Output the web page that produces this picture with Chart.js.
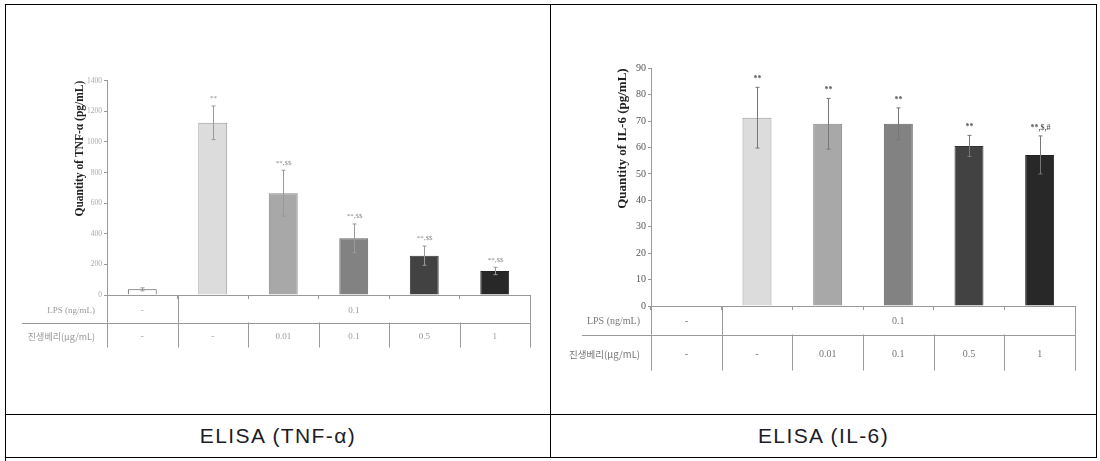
<!DOCTYPE html>
<html>
<head>
<meta charset="utf-8">
<script src="https://cdn.jsdelivr.net/npm/chart.js@4.4.1/dist/chart.umd.min.js"></script>
<style>
  body { margin: 0; background: #fff; width: 1100px; height: 461px; overflow: hidden; position: relative; }
  .ln { position: absolute; background: #000; }
  .cap { position: absolute; top: 415px; height: 42px; line-height: 42px; text-align: center;
         font-family: "Liberation Sans", sans-serif; font-size: 21px; letter-spacing: 1.4px; color: #1c1c28; }
  canvas { position: absolute; top: 5px; }
</style>
</head>
<body>
<!-- cadre du tableau -->
<div class="ln" style="left:5px;top:4px;width:1092px;height:1px"></div>
<div class="ln" style="left:5px;top:414px;width:1092px;height:1px"></div>
<div class="ln" style="left:5px;top:457px;width:1092px;height:1px"></div>
<div class="ln" style="left:5px;top:4px;width:1px;height:457px"></div>
<div class="ln" style="left:550px;top:4px;width:1px;height:454px"></div>
<div class="ln" style="left:1096px;top:4px;width:1px;height:454px"></div>
<div class="cap" style="left:6px;width:544px">ELISA (TNF-α)</div>
<div class="cap" style="left:551px;width:545px">ELISA (IL-6)</div>

<canvas id="tnf" width="544" height="408" style="left:6px"></canvas>
<canvas id="il6" width="543" height="408" style="left:552px"></canvas>

<script>
// groupes (lignes du tableau sous le graphique)
const lpsRow = ['-', '0.1', '0.1', '0.1', '0.1', '0.1'];
const berryRow = ['-', '-', '0.01', '0.1', '0.5', '1'];

// TNF-alpha (pg/mL)
const tnfMeans = [37, 1125, 665, 370, 257, 157];
const tnfErrors = [10, 110, 150, 94, 63, 24];
const tnfMarks = ['', '**', '**,$$', '**,$$', '**,$$', '**,$$'];
const tnfTicks = [0, 200, 400, 600, 800, 1000, 1200, 1400];

// IL-6 (pg/mL)
const il6Means = [0, 71.3, 69, 69, 60.6, 57.2];
const il6Errors = [0, 11.5, 9.6, 6, 4, 7.2];
const il6Marks = ['', '**', '**', '**', '**', '**,$,#'];
const il6Ticks = [0, 10, 20, 30, 40, 50, 60, 70, 80, 90];

const barColors = ['#ffffff', '#dcdcdc', '#a8a8a8', '#828282', '#424242', '#282828'];
const barBorders = ['#555', '#999', '#888', '#666', '#333', '#222'];

// barres d'erreur, étoiles et tableau des doses
const extras = {
  id: 'extras',
  afterDraw(chart, args, o) {
    const { ctx, chartArea: a, scales: { x, y } } = chart;
    const ds = chart.data.datasets[0];
    const step = x.getPixelForValue(1) - x.getPixelForValue(0);
    const edge = k => x.getPixelForValue(0) - step / 2 + step * k;
    ctx.save();

    // erreurs
    ctx.strokeStyle = o.errColor;
    ctx.lineWidth = 1;
    ds.data.forEach((v, i) => {
      const e = o.errors[i];
      if (!e) return;
      const cx = Math.round(x.getPixelForValue(i)) + 0.5;
      const t = y.getPixelForValue(v + e), b = y.getPixelForValue(v - e);
      ctx.beginPath();
      ctx.moveTo(cx, t); ctx.lineTo(cx, b);
      ctx.moveTo(cx - 2, t); ctx.lineTo(cx + 2, t);
      ctx.moveTo(cx - 2, b); ctx.lineTo(cx + 2, b);
      ctx.stroke();
      if (o.marks[i]) {
        ctx.fillStyle = o.markColor;
        ctx.font = o.markFont;
        ctx.textAlign = 'center';
        ctx.textBaseline = 'bottom';
        ctx.fillText(o.marks[i], cx, t - o.markGap);
      }
    });

    // tableau
    const y1 = a.bottom, y2 = y1 + o.row1H, y3 = y2 + o.row2H;
    ctx.strokeStyle = '#999';
    ctx.beginPath();
    ctx.moveTo(a.left - o.lineStart, Math.round(y2) + 0.5);
    ctx.lineTo(a.right, Math.round(y2) + 0.5);
    // ligne 1 : cellules fusionnées
    let start = 0;
    const groups = [];
    lpsRow.forEach((v, i) => {
      if (i === lpsRow.length - 1 || lpsRow[i + 1] !== v) { groups.push([start, i, v]); start = i + 1; }
    });
    groups.forEach(([s, e]) => {
      [s, e + 1].forEach(k => {
        const px = Math.round(edge(k)) + 0.5;
        ctx.moveTo(px, y1); ctx.lineTo(px, y2);
      });
    });
    for (let k = 0; k <= berryRow.length; k++) {
      const px = Math.round(edge(k)) + 0.5;
      ctx.moveTo(px, y2); ctx.lineTo(px, y3);
    }
    ctx.stroke();

    ctx.fillStyle = o.textColor;
    ctx.textBaseline = 'middle';
    ctx.textAlign = 'center';
    ctx.font = o.textFont;
    const m1 = (y1 + y2) / 2 + 1.5, m2 = (y2 + y3) / 2 + 1.5;
    groups.forEach(([s, e, v]) => ctx.fillText(v, (edge(s) + edge(e + 1)) / 2, m1));
    berryRow.forEach((v, i) => ctx.fillText(v, x.getPixelForValue(i), m2));
    ctx.textAlign = 'right';
    ctx.fillText('LPS (ng/mL)', a.left - o.labelGap, m1);
    ctx.font = o.korFont;
    ctx.fillText('진생베리(μg/mL)', a.left - o.labelGap, m2);
    ctx.restore();
  }
};

function makeChart(id, means, c) {
  return new Chart(document.getElementById(id), {
    type: 'bar',
    data: {
      labels: berryRow,
      datasets: [{
        data: means,
        backgroundColor: barColors,
        borderColor: barBorders,
        borderWidth: 1,
        barPercentage: 0.41,
        categoryPercentage: 1
      }]
    },
    options: {
      responsive: false,
      animation: false,
      layout: { padding: { top: c.padTop, right: 20, left: 0, bottom: 0 } },
      plugins: {
        legend: { display: false },
        tooltip: { enabled: false },
        extras: c.extras
      },
      scales: {
        x: {
          grid: { drawOnChartArea: false, tickLength: 4, color: '#999' },
          border: { color: '#999' },
          ticks: { display: false },
          afterFit: s => { s.height = c.bottomH; }
        },
        y: {
          min: 0,
          max: c.ticks[c.ticks.length - 1],
          afterBuildTicks: s => { s.ticks = c.ticks.map(v => ({ value: v })); },
          ticks: { font: c.tickFont, color: c.tickColor, padding: 2, callback: v => String(v) },
          grid: { drawOnChartArea: false, tickLength: 3, color: '#999' },
          border: { color: '#999' },
          title: {
            display: true,
            text: c.title,
            align: 'end',
            color: '#222',
            font: { family: '"Liberation Serif", serif', weight: 'bold', size: c.titleSize },
            padding: { top: c.titlePad, bottom: 0 }
          },
          afterFit: s => { s.width = c.axisW; }
        }
      }
    },
    plugins: [extras]
  });
}

makeChart('tnf', tnfMeans, {
  padTop: 75.7, bottomH: 118, axisW: 101,
  ticks: tnfTicks, title: 'Quantity of TNF-α (pg/mL)', titleSize: 11.5, titlePad: 67,
  tickFont: { family: '"Liberation Serif", serif', size: 7.5 }, tickColor: '#aaa',
  extras: {
    errors: tnfErrors, marks: tnfMarks, errColor: '#999', markColor: '#888',
    markFont: '7px "Liberation Serif", serif', markGap: 4,
    row1H: 27.5, row2H: 25, lineStart: 85, labelGap: 12,
    textColor: '#999', textFont: '9px "Liberation Serif", serif', korFont: '9px "Noto Sans CJK KR"'
  }
});

makeChart('il6', il6Means, {
  padTop: 63.3, bottomH: 107, axisW: 99,
  ticks: il6Ticks, title: 'Quantity of IL-6 (pg/mL)', titleSize: 13, titlePad: 63,
  tickFont: { family: '"Liberation Serif", serif', size: 10 }, tickColor: '#555',
  extras: {
    errors: il6Errors, marks: il6Marks, errColor: '#777', markColor: '#555',
    markFont: 'bold 8px "Liberation Serif", serif', markGap: 4,
    row1H: 28.5, row2H: 36, lineStart: 69, labelGap: 11,
    textColor: '#777', textFont: '10px "Liberation Serif", serif', korFont: '9.5px "Noto Sans CJK KR"'
  }
});
</script>
</body>
</html>
